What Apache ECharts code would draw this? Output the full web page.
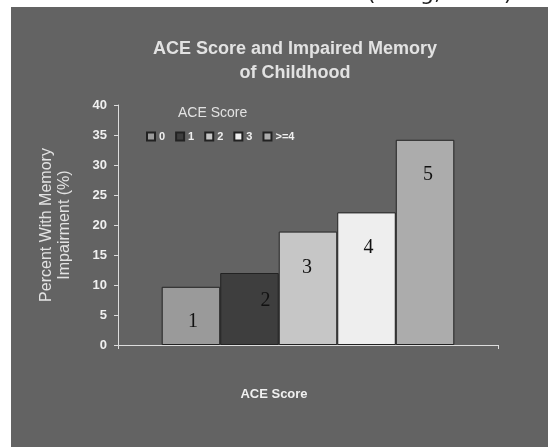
<!DOCTYPE html>
<html>
<head>
<meta charset="utf-8">
<script src="https://cdn.jsdelivr.net/npm/echarts@6/dist/echarts.min.js"></script>
<style>html,body{margin:0;padding:0;background:#fff;}#c{width:548px;height:447px;}</style>
</head>
<body>
<div id="c"></div>
<script>
const categories = [''];
const seriesNames = ['0', '1', '2', '3', '>=4'];
const seriesValues = [9.7, 12.0, 18.9, 22.1, 34.2];
const barLabels = ['1', '2', '3', '4', '5'];
const yTicks = [0, 5, 10, 15, 20, 25, 30, 35, 40];

const barColors = ['#9a9a9a', '#3e3e3e', '#c6c6c6', '#eeeeee', '#acacac'];
const labelDist = [25, 18, 26, 25, 25];
const labelOffX = [2, 16, -1, 2, 3];

const chart = echarts.init(document.getElementById('c'), null, {renderer: 'canvas'});
const series = seriesNames.map((name, i) => ({
  name: name,
  type: 'bar',
  data: [seriesValues[i]],
  barGap: '0%',
  barCategoryGap: '23%',
  itemStyle: {color: barColors[i], borderColor: '#222', borderWidth: 1},
  label: {
    show: true,
    position: 'insideTop',
    distance: labelDist[i],
    offset: [labelOffX[i], 0],
    formatter: () => barLabels[i],
    fontFamily: 'Liberation Serif',
    fontSize: 20,
    color: '#111'
  },
  emphasis: {disabled: true}
}));

chart.setOption({
  backgroundColor: '#ffffff',
  animation: false,
  graphic: [
    {type: 'rect', left: 11, top: 7, z: -10, silent: true,
     shape: {width: 537, height: 440}, style: {fill: '#636363'}},
    {type: 'text', left: 367, top: -17, z: -5, silent: true,
     style: {text: '(Dong, 2006)', font: '22px DejaVu Sans', fill: '#222'}}
  ],
  title: [
    {text: 'ACE Score and Impaired Memory\nof Childhood', left: 290, top: 32, textAlign: 'center',
     textStyle: {fontFamily: 'Liberation Sans', fontSize: 18, fontWeight: 'bold', color: '#e2e2e2', lineHeight: 24}},
    {text: 'ACE Score', left: 173, top: 101,
     textStyle: {fontFamily: 'Liberation Sans', fontSize: 14, fontWeight: 'normal', color: '#e2e2e2'}},
    {text: 'ACE Score', left: 269, top: 383, textAlign: 'center',
     textStyle: {fontFamily: 'Liberation Sans', fontSize: 13, fontWeight: 'bold', color: '#f0f0f0'}}
  ],
  legend: {
    data: seriesNames,
    left: 141, top: 126,
    itemWidth: 8, itemHeight: 8, itemGap: 10,
    icon: 'rect',
    textStyle: {fontFamily: 'Liberation Sans', fontSize: 11, fontWeight: 'bold', color: '#f0f0f0', padding: [0, 0, 0, -1]}
  },
  grid: {left: 118, right: 50, top: 105, bottom: 102},
  xAxis: {
    type: 'category',
    data: categories,
    z: 5,
    axisLine: {lineStyle: {color: '#dddddd', width: 1}},
    axisTick: {show: true, length: 4, lineStyle: {color: '#dddddd'}},
    axisLabel: {show: false}
  },
  yAxis: {
    type: 'value',
    min: 0, max: 40, interval: 5,
    name: 'Percent With Memory\nImpairment (%)',
    nameLocation: 'middle',
    nameGap: 44,
    nameTextStyle: {fontFamily: 'Liberation Sans', fontSize: 16, color: '#e2e2e2', lineHeight: 18},
    axisLine: {show: true, lineStyle: {color: '#dddddd', width: 1}},
    axisTick: {show: true, length: 4, lineStyle: {color: '#dddddd'}},
    splitLine: {show: false},
    axisLabel: {
      fontFamily: 'Liberation Sans', fontSize: 13, fontWeight: 'bold', color: '#f0f0f0', margin: 11,
      formatter: v => yTicks.includes(v) ? String(v) : ''
    }
  },
  series: series
});
</script>
</body>
</html>
